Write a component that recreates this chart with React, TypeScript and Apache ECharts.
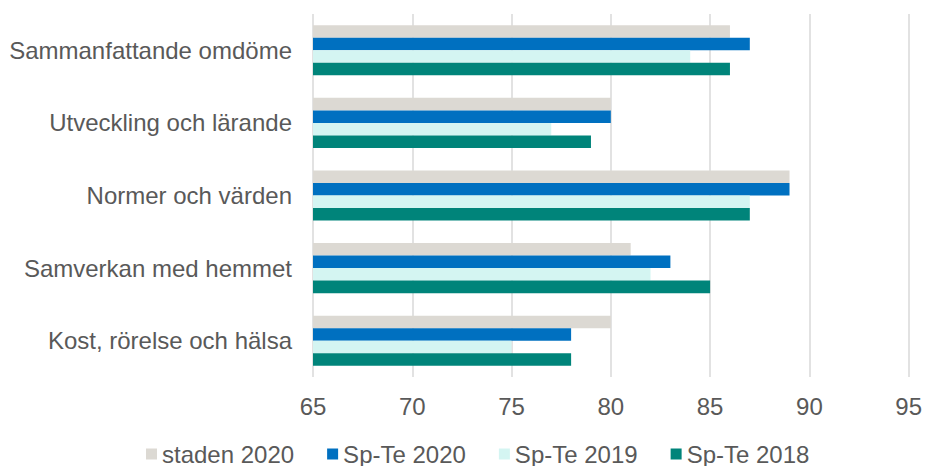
import React, { useEffect, useRef } from "react";
import * as echarts from "echarts";

const categories = [
  "Sammanfattande omdöme",
  "Utveckling och lärande",
  "Normer och värden",
  "Samverkan med hemmet",
  "Kost, rörelse och hälsa",
];
const seriesNames = ["staden 2020", "Sp-Te 2020", "Sp-Te 2019", "Sp-Te 2018"];
const staden2020 = [86, 80, 89, 81, 80];
const spTe2020 = [87, 80, 89, 83, 78];
const spTe2019 = [84, 77, 87, 82, 75];
const spTe2018 = [86, 79, 87, 85, 78];
const seriesColors = ["#DCD9D3", "#0070C0", "#D4F5F2", "#00847A"];
const xTicks = { min: 65, max: 95, interval: 5 };

const FONT = "Liberation Sans, Arial, sans-serif";

export default function App() {
  const ref = useRef<HTMLDivElement>(null);
  useEffect(() => {
    if (!ref.current) return;
    const chart = echarts.init(ref.current, undefined, { renderer: "svg" });
    const data = [staden2020, spTe2020, spTe2019, spTe2018];
    chart.setOption({
      animation: false,
      textStyle: { fontFamily: FONT },
      grid: { left: 313, right: 14, top: 14, bottom: 89, containLabel: false },
      legend: {
        data: seriesNames,
        top: 437,
        left: 141,
        itemWidth: 11,
        itemHeight: 11,
        itemGap: 33,
        icon: "rect",
        textStyle: { fontSize: 24, color: "#595959", fontFamily: FONT },
      },
      xAxis: {
        type: "value",
        min: xTicks.min,
        max: xTicks.max,
        interval: xTicks.interval,
        axisLine: { show: false },
        axisTick: { show: false },
        splitLine: { lineStyle: { color: "#D9D9D9", width: 1.5 } },
        axisLabel: { fontSize: 24, color: "#595959", margin: 17 },
      },
      yAxis: {
        type: "category",
        data: categories,
        inverse: true,
        axisLine: { show: false },
        axisTick: { show: false },
        axisLabel: { fontSize: 24, color: "#595959", margin: 21 },
      },
      series: seriesNames.map((name, i) => ({
        name,
        type: "bar",
        data: data[i],
        barGap: "0%",
        barCategoryGap: "31%",
        itemStyle: { color: seriesColors[i] },
      })),
    });
    return () => chart.dispose();
  }, []);
  return (
    <div
      ref={ref}
      style={{ position: "absolute", left: 0, top: 0, width: 925, height: 466 }}
    />
  );
}
